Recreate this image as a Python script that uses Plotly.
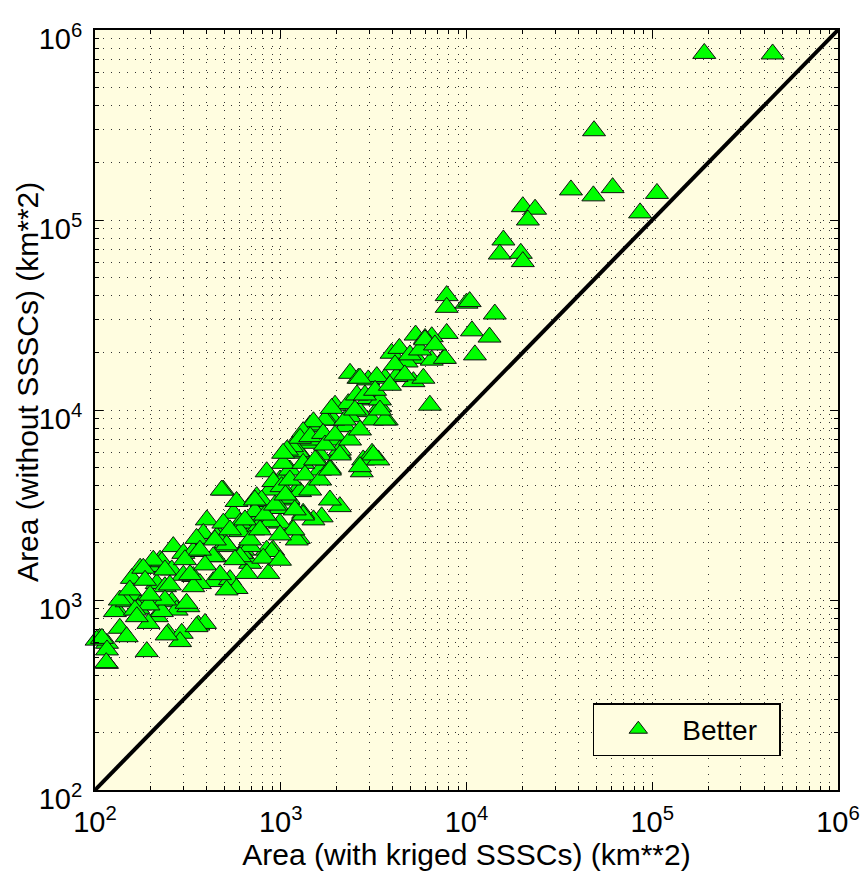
import plotly.graph_objects as go

# Data values (km**2)
x_kriged = [
    190600, 444600, 48600, 36500, 48200, 61200, 106000, 86000, 20100, 23400, 21400, 15800, 15100, 19600, 20100,
    7820, 7820, 10000, 10400, 14200, 7820, 10700, 13300, 7570, 11100,
    5320, 6500, 5980, 3950, 4350, 5380, 6500, 7650, 4760, 2360, 2620, 2960, 3640, 3290, 4390, 5180, 5860, 6350,
    1960, 2310, 3020, 3420, 2670, 3720, 3100, 2220, 1920, 1500, 1320, 2080, 2780, 3100, 3350, 2730,
    2080, 1840, 1660, 1500, 1320, 1250, 1150, 840, 910, 857, 490, 400, 556, 501, 629, 442, 711, 773, 990, 822,
    1100, 875, 990, 1120, 1270, 1380, 1770, 1440, 1030, 1630, 1220, 1840, 742, 604, 471, 684,
    789, 264, 299, 338, 383, 452, 511, 617, 893, 224, 198, 175, 158, 215, 338, 433, 533, 656, 578, 511, 238,
    161, 142, 175, 131, 206, 215, 259, 275, 318, 229, 360, 391, 248, 293, 287, 136, 148, 190, 106, 116, 116, 102,
    109, 116, 115, 352, 243, 171, 128, 1220,
    4200, 3020, 1730, 1440, 1240, 3150, 1630, 1150,
    2670, 2960, 2570, 3420, 1880, 2360, 3640, 1500, 1320, 1270, 1440, 1690, 1920, 2080, 1080, 1320, 1560, 2670,
    1030, 840, 912, 1010, 1100, 1270, 481, 578, 789, 990, 726, 491, 604, 757, 875, 1320, 1170, 990, 684, 511,
    433, 604, 805, 990,
    352, 229, 206, 182, 259, 299, 367, 338, 311, 238, 194, 148, 164, 194, 168,
    136, 154, 186, 198, 238, 253, 305, 325, 367, 391, 442, 471, 533, 567, 642, 684, 726, 773, 822, 931,
    1060, 1120, 1190, 1350, 1440, 1530, 1630, 1730, 1840, 1960, 2080, 2220, 2360, 2510, 2670, 2840, 3220, 3420,
    3870, 4120, 4650, 4960, 5620, 5980, 6760,
]
y_without = [
    753000, 748000, 295000, 144000, 134000, 148000, 138000, 109000, 117500, 114000, 100000, 78500, 66200, 66800, 60400,
    40000, 34700, 36500, 37200, 32000, 25300, 26100, 24200, 18700, 19500,
    24800, 24300, 23800, 19900, 21100, 18700, 18300, 18700, 17900, 15600, 14700, 14400, 14700, 15000, 15000, 14100, 14700, 10600,
    10600, 10800, 11300, 10400, 9800, 8860, 8860, 8170, 8860, 8170, 7380, 5920, 5460, 5920, 5460, 4730,
    3100, 3360, 2740, 2640, 2860, 2110, 2340, 1830, 1830, 1380, 3790, 2640, 2860, 1990, 1830, 1690, 2340, 2740, 2540, 3100,
    3360, 3790, 4280, 4830, 5920, 6680, 8860, 6950, 5240, 4830, 3790, 4930, 3500, 2540, 2150, 1560,
    3300, 1910, 1760, 1800, 2240, 2150, 1910, 1760, 1800, 1620, 1500, 1470, 1300, 1220, 1330, 1250, 1280, 1380, 1150, 1130, 1175,
    1060, 1000, 942, 885, 979, 817, 979, 885, 922, 869, 738, 753, 668, 668, 604, 710, 641, 535, 628, 592, 464, 615,
    628, 546, 468, 724, 655, 904, 869, 2070,
    15000, 11500, 8860, 8340, 6030, 5800, 5800, 6410,
    14700, 11500, 12000, 11300, 10200, 9220, 8860, 8670, 7690, 7100, 7240, 7530, 6950, 6150, 6150, 5240, 5460, 5030,
    5920, 4730, 4200, 3950, 3430, 3720, 3790, 3300, 3360, 3030, 2920, 2540, 2290, 2430, 2580, 2800, 2340, 2200, 1910, 1950,
    1690, 1690, 1660, 1620,
    2110, 1590, 1620, 1470, 1440, 1350, 1220, 1175, 961, 1000, 942, 979, 885, 753, 817,
    1000, 1130, 1270, 1060, 1440, 1200, 1630, 1360, 1830, 1530, 2070, 1360, 2340, 1630, 2640, 2070, 3360, 2340, 2800, 3160,
    3570, 4280, 2980, 4550, 3790, 5460, 4280, 6540, 4830, 7380, 5800, 8860, 6950, 10000, 7850, 12000, 12700, 10000,
    13500, 17300, 15300, 19500, 20700, 23400, 22000,
]
line_x = [1e2, 1e6]
line_y = [1e2, 1e6]
tick_vals = [1e2, 1e3, 1e4, 1e5, 1e6]
tick_text = ["10<sup>2</sup>", "10<sup>3</sup>", "10<sup>4</sup>", "10<sup>5</sup>", "10<sup>6</sup>"]
minor_vals = [m * 10 ** e for e in range(2, 6) for m in range(2, 10)]
legend_name = "Better"
x_title = "Area (with kriged SSSCs) (km**2)"
y_title = "Area (without SSSCs) (km**2)"

BG = "#FFFDE0"
FONT = "Liberation Sans, Arial, sans-serif"
GRID = "#333333"
DOTS = "1px,7px"

fig = go.Figure()
fig.add_trace(go.Scatter(
    x=x_kriged, y=y_without, mode="markers", name=legend_name,
    marker=dict(symbol="triangle-up", size=20, color="#00FF00",
                line=dict(color="#111111", width=1)),
    cliponaxis=False,
))
fig.add_trace(go.Scatter(
    x=line_x, y=line_y, mode="lines",
    line=dict(color="black", width=4), showlegend=False, hoverinfo="skip",
))

axis_common = dict(
    type="log", tickmode="array", tickvals=tick_vals, ticktext=tick_text,
    showline=True, linecolor="black", linewidth=2, mirror="allticks",
    ticks="inside", ticklen=8, tickwidth=1, tickcolor="black",
    showgrid=True, gridcolor=GRID, gridwidth=1, griddash=DOTS,
    zeroline=False, automargin=False, ticklabeloverflow="allow",
    tickfont=dict(family=FONT, size=29, color="black"),
    minor=dict(ticks="inside", ticklen=4, tickcolor="black", tickwidth=1,
               showgrid=True, gridcolor=GRID, gridwidth=1, griddash=DOTS,
               tickmode="array", tickvals=minor_vals),
)

fig.update_layout(
    width=860, height=873,
    margin=dict(l=95, r=22, t=30, b=83),
    paper_bgcolor="white", plot_bgcolor=BG,
    font=dict(family=FONT, color="black"),
    xaxis=dict(range=[2, 6], ticklabelstandoff=5,
               title=dict(text=x_title, font=dict(family=FONT, size=30), standoff=4),
               **axis_common),
    yaxis=dict(range=[2, 6], ticklabelstandoff=5, ticklabelshift=9,
               **axis_common),
    legend=dict(
        orientation="h",
        x=0.923, y=0.0447, xanchor="right", yanchor="bottom",
        bgcolor=BG, bordercolor="black", borderwidth=1.5,
        font=dict(family=FONT, size=28, color="black"),
        itemsizing="trace", itemwidth=78,
        entrywidth=92, entrywidthmode="pixels",
    ),
    showlegend=True,
    annotations=[dict(
        text=y_title, textangle=-90, showarrow=False,
        xref="paper", x=0, xanchor="center", xshift=-67,
        yref="paper", y=0.537, yanchor="middle",
        font=dict(family=FONT, size=30, color="black"),
    )],
)

fig.write_html("out.html")
